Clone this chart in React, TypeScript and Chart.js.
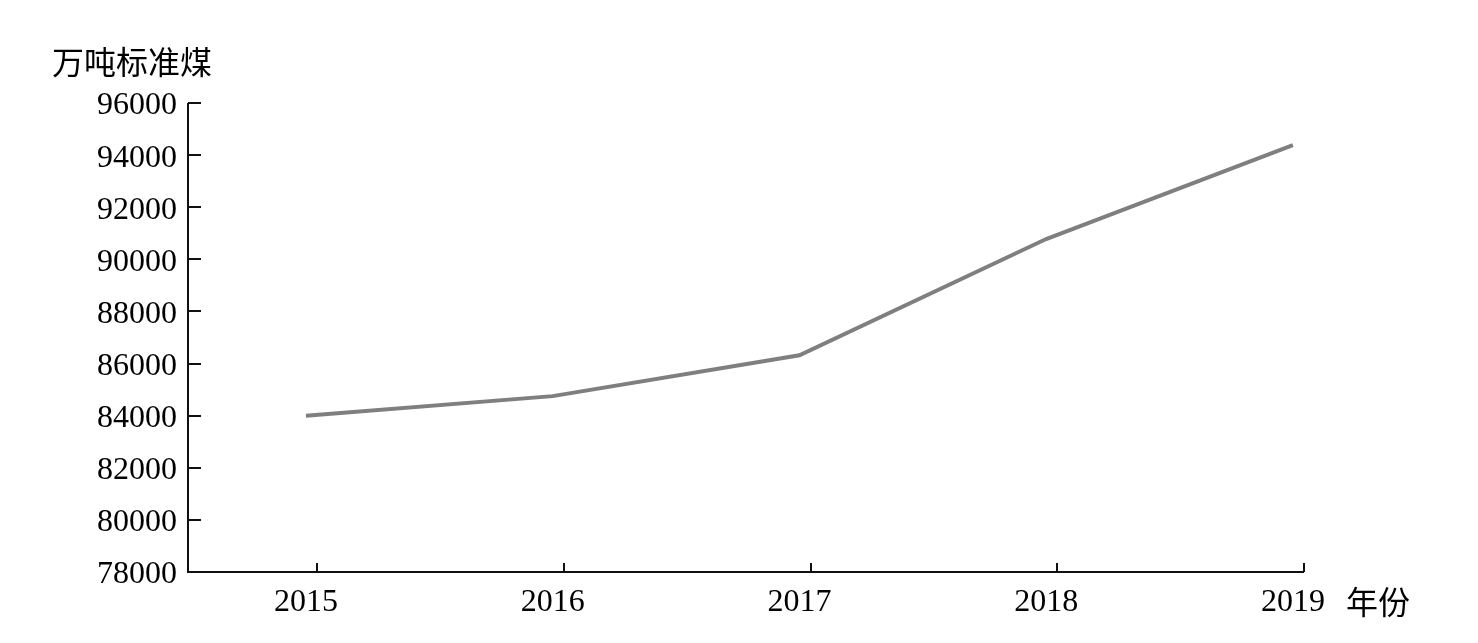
import React, { useEffect, useRef } from "react";
import { Chart, registerables } from "chart.js";

Chart.register(...registerables);

const years = [2015, 2016, 2017, 2018, 2019];
const consumption = [84000, 84750, 86320, 90780, 94380];
const yTicks = [78000, 80000, 82000, 84000, 86000, 88000, 90000, 92000, 94000, 96000];
const yUnit = "万吨标准煤";
const xUnit = "年份";

const NUM_FONT = "'Liberation Serif', 'Times New Roman', serif";
const CJK_FONT = "'Noto Sans CJK SC', 'Noto Sans CJK JP', sans-serif";
const TICK_SHIFT = 0.045;

const axesPlugin = {
  id: "customAxes",
  afterDraw(chart: any) {
    const { ctx, chartArea, scales } = chart;
    const x = scales.x;
    const y = scales.y;
    ctx.save();
    ctx.strokeStyle = "#111";
    ctx.lineWidth = 2;
    ctx.beginPath();
    ctx.moveTo(chartArea.left, chartArea.top);
    ctx.lineTo(chartArea.left, chartArea.bottom);
    ctx.lineTo(chartArea.right, chartArea.bottom);
    ctx.stroke();
    ctx.beginPath();
    yTicks.forEach((v) => {
      const py = Math.round(y.getPixelForValue(v));
      ctx.moveTo(chartArea.left, py);
      ctx.lineTo(chartArea.left + 13, py);
    });
    years.forEach((v) => {
      const px = Math.round(x.getPixelForValue(v + TICK_SHIFT));
      ctx.moveTo(px, chartArea.bottom);
      ctx.lineTo(px, chartArea.bottom - 9);
    });
    ctx.stroke();
    ctx.fillStyle = "#000";
    ctx.font = `32px ${CJK_FONT}`;
    ctx.textBaseline = "middle";
    ctx.textAlign = "left";
    ctx.fillText(yUnit, 52, 62);
    ctx.fillText(xUnit, 1346, 602);
    ctx.restore();
  },
};

export default function App() {
  const ref = useRef<HTMLCanvasElement | null>(null);
  useEffect(() => {
    document.body.style.margin = "0";
    if (!ref.current) return;
    const chart = new Chart(ref.current, {
      type: "line",
      data: {
        datasets: [
          {
            data: years.map((yr, i) => ({ x: yr, y: consumption[i] })),
            borderColor: "#7f7f7f",
            borderWidth: 4,
            pointRadius: 0,
            tension: 0,
            fill: false,
          },
        ],
      },
      options: {
        animation: false,
        responsive: false,
        layout: { padding: { left: 0, top: 103, right: 174, bottom: 0 } },
        plugins: { legend: { display: false }, tooltip: { enabled: false } },
        scales: {
          x: {
            type: "linear",
            min: 2014.522,
            max: 2019 + TICK_SHIFT,
            grid: { display: false, drawTicks: false },
            border: { display: false },
            afterBuildTicks: (scale: any) => {
              scale.ticks = years.map((v) => ({ value: v }));
            },
            afterFit: (scale: any) => {
              scale.height = 71;
            },
            ticks: {
              padding: 11,
              color: "#000",
              font: { family: NUM_FONT, size: 32 },
              maxRotation: 0,
              autoSkip: false,
              callback: (v: any) => String(v),
            },
          },
          y: {
            type: "linear",
            min: yTicks[0],
            max: yTicks[yTicks.length - 1],
            grid: { display: false, drawTicks: false },
            border: { display: false },
            afterBuildTicks: (scale: any) => {
              scale.ticks = yTicks.map((v) => ({ value: v }));
            },
            afterFit: (scale: any) => {
              scale.width = 188;
            },
            ticks: {
              padding: 11,
              labelOffset: 3,
              color: "#000",
              font: { family: NUM_FONT, size: 32 },
              callback: (v: any) => String(v),
            },
          },
        },
      },
      plugins: [axesPlugin],
    });
    return () => chart.destroy();
  }, []);
  return (
    <div style={{ width: 1478, height: 643, background: "#fff" }}>
      <canvas ref={ref} width={1478} height={643} />
    </div>
  );
}
